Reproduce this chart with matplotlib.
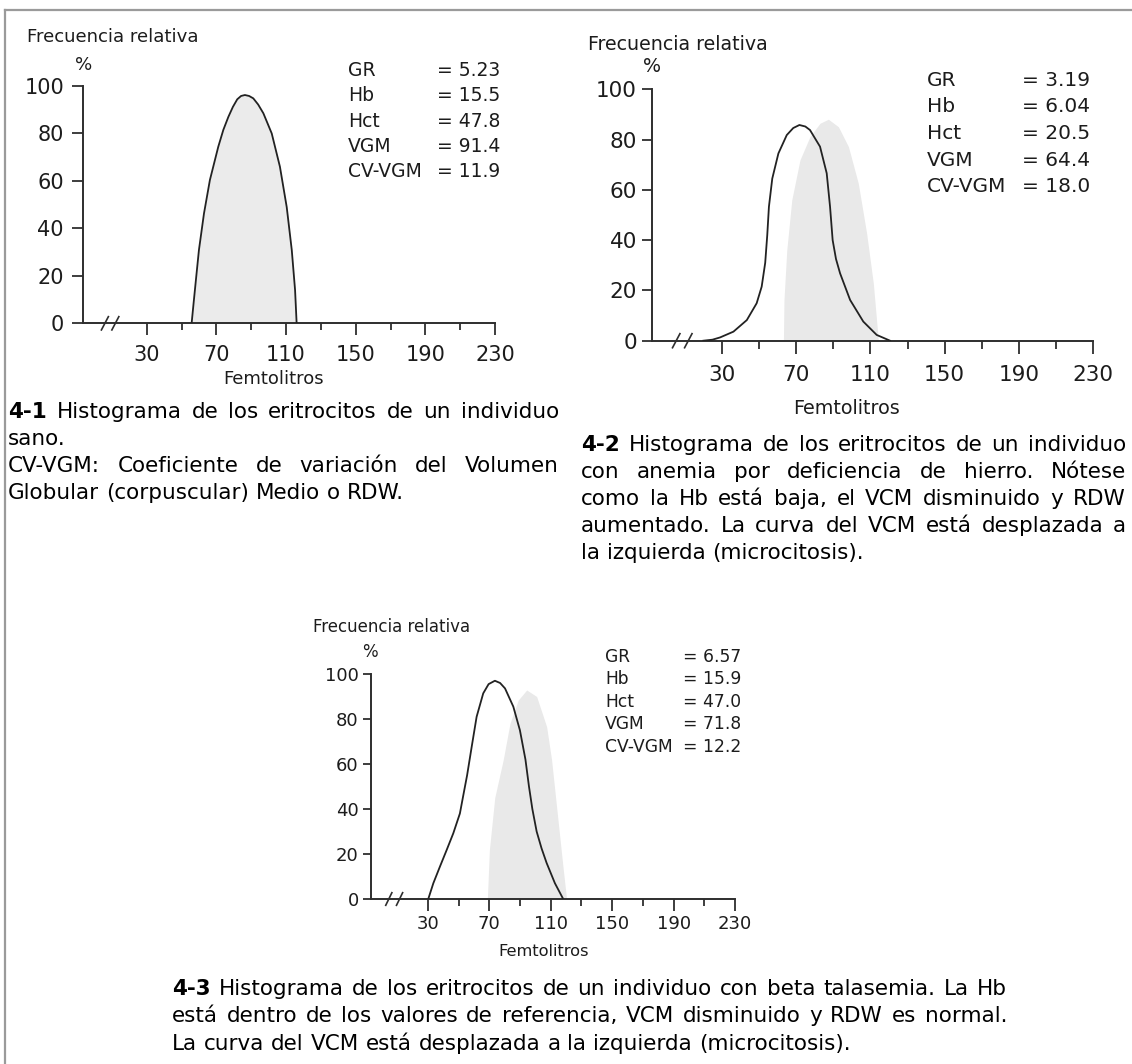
import matplotlib
matplotlib.use("Agg")
import matplotlib.pyplot as plt

W, H = 1132, 1064
plt.rcParams['font.family'] = ['DejaVu Sans']

# ---------------- data ----------------
x_major = [30, 70, 110, 150, 190, 230]
x_minor = [50, 90, 130, 170, 210]
y_major = [0, 20, 40, 60, 80, 100]

stat_names = ["GR", "Hb", "Hct", "VGM", "CV-VGM"]
stats_1 = ["5.23", "15.5", "47.8", "91.4", "11.9"]
stats_2 = ["3.19", "6.04", "20.5", "64.4", "18.0"]
stats_3 = ["6.57", "15.9", "47.0", "71.8", "12.2"]

# panel 1: healthy individual (filled curve)
c1_fl = [55.8, 57.0, 58.5, 60.0, 62.9, 66.3, 71.1, 74.0, 76.9, 79.5, 82.0, 84.2, 86.4,
         88.8, 91.2, 94.0, 97.0, 101.8, 106.5, 110.4, 113.3, 115.2, 116.1]
c1_pct = [0, 9, 20, 30.9, 46.3, 60.4, 74.4, 81.5, 87.0, 91.2, 94.4, 95.8, 96.2,
          95.8, 94.8, 92.2, 88.5, 80.0, 66.0, 49.0, 30.9, 14.0, 0]

# panel 2: iron deficiency (outlined) + normal reference (shaded)
c2_fl = [20.1, 25, 29.1, 36.3, 43.5, 48.8, 51.5, 53.4, 54.5, 55.4, 57.2, 60.5, 65.0, 68.5,
         71.8, 75.0, 77.5, 82.9, 86.5, 88.3, 89.7, 91.5, 93.7, 99.1, 106.2, 113.4, 120.6]
c2_pct = [0, 0.4, 1.3, 3.6, 8.2, 14.9, 21.5, 31, 42, 53.3, 64.5, 74.5, 81.8, 84.6,
          85.8, 85.2, 83.8, 77.2, 66.6, 53.3, 40, 32.5, 26.8, 16.2, 7.6, 2.3, 0]
r2_fl = [63.2, 63.5, 65.0, 67.7, 72.1, 77.5, 82.9, 87.4, 92.8, 98.2, 103.5, 108.0, 111.6, 114.3]
r2_pct = [0, 16.2, 36, 56, 71.9, 81.2, 86.5, 88.1, 85.1, 77.2, 62.6, 42.7, 22.8, 0]

# panel 3: beta thalassemia (outlined) + normal reference (shaded)
c3_fl = [30.2, 33.5, 37.8, 42.2, 46.5, 50.8, 53.0, 55.5, 58.5, 61.7, 66.0, 69.5, 73.6,
         77.0, 80.2, 85.6, 89.9, 93.5, 95.8, 98.0, 100.8, 104.0, 107.3, 112.7, 118.1]
c3_pct = [0, 7, 14.4, 21.8, 29.2, 38, 46, 55, 67.7, 81, 91.4, 95.5, 97,
          96, 93.6, 85.5, 75, 62, 50, 40, 30, 22.5, 16, 7, 0]
r3_fl = [68.7, 70.0, 73.5, 79.0, 83.4, 88.8, 94.3, 100.8, 107.3, 110.5, 113.0, 115.5, 118.0, 120.3]
r3_pct = [0, 21.8, 45, 61.8, 78, 88.4, 92.9, 90, 76.6, 62, 46, 30, 14, 0]

y_title = "Frecuencia relativa"
x_title = "Femtolitros"

cap1 = [("4-1", "Histograma de los eritrocitos de un individuo", True),
        ("", "sano.", False),
        ("", "CV-VGM: Coeficiente de variación del Volumen", True),
        ("", "Globular (corpuscular) Medio o RDW.", False)]
cap2 = [("4-2", "Histograma de los eritrocitos de un individuo", True),
        ("", "con anemia por deficiencia de hierro. Nótese", True),
        ("", "como la Hb está baja, el VCM disminuido y RDW", True),
        ("", "aumentado. La curva del VCM está desplazada a", True),
        ("", "la izquierda (microcitosis).", False)]
cap3 = [("4-3", "Histograma de los eritrocitos de un individuo con beta talasemia. La Hb", True),
        ("", "está dentro de los valores de referencia, VCM disminuido y RDW es normal.", True),
        ("", "La curva del VCM está desplazada a la izquierda (microcitosis).", False)]

# ---------------- style ----------------
AX = "#2e2e2e"
TXT = "#1c1c1c"
LINE = "#222222"
FILL = "#ebebeb"
SHADE = "#e9e9e9"

fig = plt.figure(figsize=(W / 100, H / 100), dpi=100)
fig.patch.set_facecolor("white")


def ftext(x, y, s, **kw):
    return fig.text(x / W, 1 - y / H, s, **kw)


def panel(cfg, fl, pct, ref_fl=None, ref_pct=None, filled=False, vals=None):
    x0, y0, x1, y1 = cfg["rect"]
    ax = fig.add_axes([x0 / W, 1 - y1 / H, (x1 - x0) / W, (y1 - y0) / H])
    ax.set_xlim(cfg["xmin"], 230)
    ax.set_ylim(0, 100)
    ax.patch.set_visible(False)
    for s in ("top", "right"):
        ax.spines[s].set_visible(False)
    for s in ("left", "bottom"):
        ax.spines[s].set_linewidth(1.4)
        ax.spines[s].set_color(AX)
    if ref_fl is not None:
        ax.fill_between(ref_fl, ref_pct, 0, color=SHADE, lw=0, zorder=1)
    if filled:
        ax.fill_between(fl, pct, 0, color=FILL, lw=0, zorder=1)
    ax.plot(fl, pct, color=LINE, lw=1.3, zorder=3, solid_joinstyle="round")
    ax.set_xticks(x_major)
    ax.set_xticklabels([str(v) for v in x_major])
    ax.set_xticks(x_minor, minor=True)
    ax.set_yticks(y_major)
    ax.set_yticklabels([str(v) for v in y_major])
    ax.tick_params(axis="x", which="major", direction="out", length=cfg["tl"] * 0.72,
                   width=1.3, color=AX, pad=cfg["xpad"], labelsize=cfg["tick_fs"], labelcolor=TXT)
    ax.tick_params(axis="x", which="minor", direction="out", length=cfg["tl"] * 0.72 * 0.62,
                   width=1.3, color=AX)
    ax.tick_params(axis="y", which="major", direction="out", length=cfg["ytl"] * 0.72,
                   width=1.3, color=AX, pad=cfg["ypad"], labelsize=cfg["tick_fs"], labelcolor=TXT)
    for b in cfg["breaks"]:
        ax.plot([b - 2.0, b + 2.0], [-2.8, 2.8], color=AX, lw=1.2, clip_on=False, zorder=4)
    # titles & stats
    ftext(cfg["yt"][0], cfg["yt"][1], y_title, ha="left", va="center", fontsize=cfg["yt_fs"], color=TXT)
    ftext(cfg["pc"][0], cfg["pc"][1], "%", ha="center", va="center", fontsize=cfg["yt_fs"], color=TXT)
    ftext(cfg["xt"][0], cfg["xt"][1], x_title, ha="center", va="center", fontsize=cfg["xt_fs"], color=TXT)
    sx_n, sx_v, sy, sdy = cfg["stats"]
    for i, (n, v) in enumerate(zip(stat_names, vals)):
        ftext(sx_n, sy + i * sdy, n, ha="left", va="center", fontsize=cfg["st_fs"], color=TXT)
        ftext(sx_v, sy + i * sdy, "= " + v, ha="left", va="center", fontsize=cfg["st_fs"], color=TXT)
    return ax


P1 = dict(rect=(83.3, 86, 495, 323.3), xmin=-6.4, tl=12, ytl=11, xpad=7, ypad=6,
          tick_fs=15, breaks=[6, 12], yt=(26.7, 37.3), pc=(83.3, 65), yt_fs=13.1,
          xt=(273.3, 379.3), xt_fs=13, stats=(348.3, 436.7, 70.7, 25.2), st_fs=13.5)
P2 = dict(rect=(651.7, 89.3, 1093.3, 340.7), xmin=-7.7, tl=12.5, ytl=10, xpad=8.5, ypad=3.5,
          tick_fs=15.5, breaks=[5.5, 12], yt=(588, 45), pc=(651.7, 66.7), yt_fs=13.7,
          xt=(846.7, 408.3), xt_fs=13.8, stats=(926.7, 1021.7, 80, 26.7), st_fs=14.5)
P3 = dict(rect=(371, 674, 735, 899), xmin=-7.1, tl=12, ytl=8, xpad=3, ypad=3,
          tick_fs=13, breaks=[4.5, 11.5], yt=(313, 627), pc=(370, 652), yt_fs=12,
          xt=(543.3, 951.7), xt_fs=11.7, stats=(605, 683.3, 656.7, 22.5), st_fs=12.3)

panel(P1, c1_fl, c1_pct, filled=True, vals=stats_1)
panel(P2, c2_fl, c2_pct, r2_fl, r2_pct, vals=stats_2)
panel(P3, c3_fl, c3_pct, r3_fl, r3_pct, vals=stats_3)

# ---------------- captions (justified word placement) ----------------
renderer = fig.canvas.get_renderer()
CAP_FS = 15.5


def width_of(s, bold=False):
    t = fig.text(0, 0, s, fontsize=CAP_FS, fontweight="bold" if bold else "normal")
    w = t.get_window_extent(renderer).width
    t.remove()
    return w


SPACE = width_of("a a") - width_of("aa")


def caption(lines, x0, x1, y0, dy):
    for i, (lead, body, just) in enumerate(lines):
        y = y0 + i * dy
        words = []
        if lead:
            words.append((lead, True))
        words += [(w, False) for w in body.split(" ")]
        widths = [width_of(w, b) for w, b in words]
        if just and len(words) > 1:
            gap = max(SPACE * 0.8, (x1 - x0 - sum(widths)) / (len(words) - 1))
        else:
            gap = SPACE
        x = x0
        for (w, b), wd in zip(words, widths):
            ftext(x, y, w, ha="left", va="center", fontsize=CAP_FS,
                  fontweight="bold" if b else "normal", color="black")
            x += wd + gap


caption(cap1, 8, 559, 412, 27)
caption(cap2, 581, 1126, 445, 27)
caption(cap3, 172, 1007, 989, 27.5)

# page frame (top and left rules)
fig.add_artist(plt.Line2D([5 / W, 1], [1 - 10 / H, 1 - 10 / H], color="#9a9a9a", lw=1.6))
fig.add_artist(plt.Line2D([5 / W, 5 / W], [0, 1 - 10 / H], color="#9a9a9a", lw=1.6))

fig.savefig("out.png", dpi=100, facecolor="white")
